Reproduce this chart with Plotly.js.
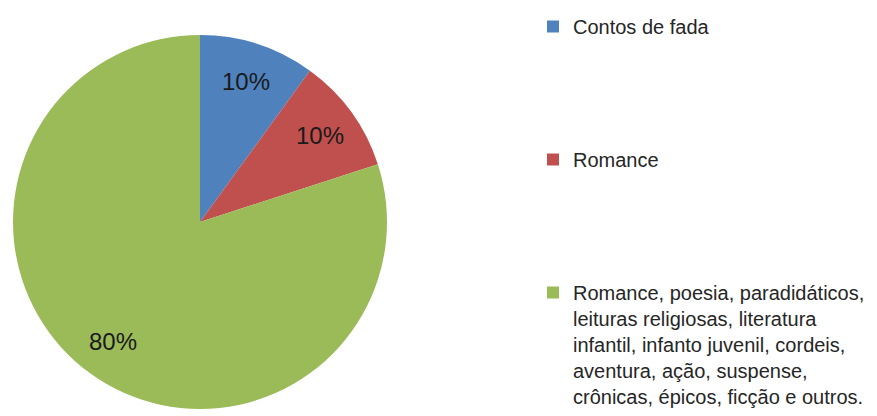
<!DOCTYPE html>
<html>
<head>
<meta charset="utf-8">
<script src="https://cdn.plot.ly/plotly-3.0.1.min.js"></script>
<style>html,body{margin:0;padding:0;background:#fff;}#chart{width:877px;height:416px;}</style>
</head>
<body>
<div id="chart"></div>
<script>
var categories = [
  "Contos de fada",
  "Romance",
  "Romance, poesia, paradidáticos,<br>leituras religiosas, literatura<br>infantil, infanto juvenil, cordeis,<br>aventura, ação, suspense,<br>crônicas, épicos, ficção e outros."
];
var values = [10, 10, 80];
var colors = ["#4F81BD", "#C0504D", "#9BBB59"];

var W = 877, H = 416;
var pieLeft = 13, pieRight = 387, pieTop = 35, pieBottom = 409;

// pad legend entries to five lines each so entries are spaced as in the original
var legendLabels = categories.map(function (c) {
  var n = c.split("<br>").length;
  var s = c;
  for (var i = n; i < 5; i++) s += "<br> ";
  return s;
});

var trace = {
  type: "pie",
  labels: legendLabels,
  values: values,
  sort: false,
  direction: "clockwise",
  rotation: 0,
  marker: { colors: colors, line: { width: 0 } },
  textinfo: "none",
  hoverinfo: "label+percent",
  domain: { x: [pieLeft / W, pieRight / W], y: [1 - pieBottom / H, 1 - pieTop / H] }
};

// percentage labels placed along each slice's mid-angle (derived from the values)
var total = values.reduce(function (a, b) { return a + b; }, 0);
var cx = (pieLeft + pieRight) / 2, cy = (pieTop + pieBottom) / 2, R = (pieRight - pieLeft) / 2;
var cum = 0;
var annotations = values.map(function (v) {
  var mid = (cum + v / 2) / total;
  cum += v;
  var th = 2 * Math.PI * mid;
  var r = 0.79 * R;
  var px = cx + r * Math.sin(th), py = cy - r * Math.cos(th);
  return {
    x: px / W, y: 1 - py / H, xref: "paper", yref: "paper",
    xanchor: "center", yanchor: "middle", showarrow: false,
    text: Math.round(100 * v / total) + "%",
    font: { family: "Liberation Sans, Arial, sans-serif", size: 24, color: "#1a1a1a" }
  };
});

var layout = {
  width: W,
  height: H,
  margin: { l: 0, r: 0, t: 0, b: 0 },
  paper_bgcolor: "#ffffff",
  showlegend: true,
  annotations: annotations,
  legend: {
    x: 533 / W,
    xanchor: "left",
    y: 1 - 9 / H,
    yanchor: "top",
    valign: "top",
    font: { family: "Liberation Sans, Arial, sans-serif", size: 20, color: "#262626" },
    bgcolor: "rgba(0,0,0,0)"
  }
};

Plotly.newPlot("chart", [trace], layout, { displayModeBar: false, staticPlot: true });
</script>
</body>
</html>
